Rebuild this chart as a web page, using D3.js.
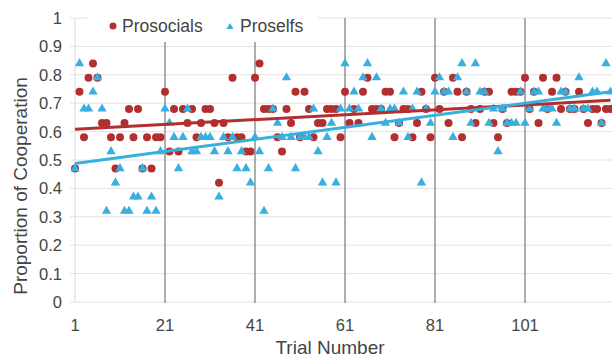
<!DOCTYPE html>
<html>
<head>
<meta charset="utf-8">
<script src="https://cdn.jsdelivr.net/npm/d3@7"></script>
<style>
  body { margin: 0; background: #fff; }
  svg { display: block; font-family: "Liberation Sans", Arial, sans-serif; }
</style>
</head>
<body>
<svg id="chart" width="612" height="358"></svg>
<script>
// Proportion of cooperation per trial (trials 1..120)
const prosocials = [
  0.47, 0.74, 0.58, 0.79, 0.84, 0.79, 0.63, 0.63, 0.58, 0.47,
  0.58, 0.63, 0.68, 0.58, 0.68, 0.47, 0.58, 0.47, 0.58, 0.58,
  0.74, 0.53, 0.68, 0.53, 0.68, 0.63, 0.68, 0.58, 0.63, 0.68,
  0.68, 0.63, 0.42, 0.63, 0.58, 0.79, 0.58, 0.58, 0.53, 0.53,
  0.79, 0.84, 0.68, 0.68, 0.68, 0.58, 0.53, 0.68, 0.63, 0.74,
  0.58, 0.74, 0.68, 0.58, 0.63, 0.63, 0.68, 0.68, 0.68, 0.58,
  0.74, 0.63, 0.68, 0.63, 0.74, 0.79, 0.68, 0.68, 0.68, 0.74,
  0.74, 0.58, 0.63, 0.68, 0.68, 0.58, 0.63, 0.74, 0.68, 0.58,
  0.79, 0.68, 0.74, 0.63, 0.79, 0.74, 0.58, 0.74, 0.68, 0.63,
  0.68, 0.74, 0.74, 0.63, 0.58, 0.68, 0.63, 0.74, 0.74, 0.74,
  0.79, 0.68, 0.74, 0.63, 0.79, 0.68, 0.74, 0.79, 0.68, 0.74,
  0.68, 0.68, 0.74, 0.68, 0.63, 0.68, 0.68, 0.63, 0.68, 0.68
];
const proselfs = [
  0.47, 0.84, 0.68, 0.68, 0.74, 0.79, 0.68, 0.32, 0.53, 0.42,
  0.47, 0.32, 0.32, 0.37, 0.37, 0.47, 0.32, 0.37, 0.32, 0.53,
  0.68, 0.63, 0.58, 0.47, 0.58, 0.68, 0.53, 0.53, 0.58, 0.58,
  0.58, 0.53, 0.37, 0.58, 0.53, 0.58, 0.47, 0.53, 0.47, 0.42,
  0.58, 0.53, 0.32, 0.47, 0.68, 0.63, 0.58, 0.79, 0.58, 0.47,
  0.58, 0.58, 0.58, 0.68, 0.53, 0.42, 0.58, 0.63, 0.42, 0.68,
  0.84, 0.68, 0.74, 0.68, 0.79, 0.84, 0.58, 0.79, 0.68, 0.63,
  0.68, 0.68, 0.63, 0.74, 0.58, 0.68, 0.74, 0.42, 0.68, 0.63,
  0.74, 0.79, 0.74, 0.74, 0.58, 0.79, 0.84, 0.74, 0.63, 0.84,
  0.74, 0.74, 0.63, 0.68, 0.53, 0.68, 0.63, 0.63, 0.63, 0.74,
  0.63, 0.68, 0.74, 0.74, 0.68, 0.68, 0.68, 0.63, 0.74, 0.74,
  0.68, 0.68, 0.79, 0.68, 0.68, 0.74, 0.74, 0.63, 0.84, 0.74
];
// linear trend lines, value at trial 1 and trial 120
const trendTrials = [1, 120];
const trendProsocials = [0.608, 0.71];
const trendProselfs = [0.488, 0.74];

const yTicks = [0, 0.1, 0.2, 0.3, 0.4, 0.5, 0.6, 0.7, 0.8, 0.9, 1];
const xTicks = [1, 21, 41, 61, 81, 101];
const dividerTrials = [21, 41, 61, 81, 101];

const red = "#b1302f";
const blue = "#37b0df";

const svg = d3.select("#chart");

const x = d3.scaleLinear().domain([1, 120]).range([75, 610.5]);
const y = d3.scaleLinear().domain([0, 1]).range([302, 18]);

// horizontal grid
svg.append("g")
  .selectAll("line")
  .data(yTicks)
  .enter()
  .append("line")
  .attr("x1", 70)
  .attr("x2", 612)
  .attr("y1", d => y(d))
  .attr("y2", d => y(d))
  .attr("stroke", "#e2e2e2")
  .attr("stroke-width", 1);

// y axis line
svg.append("line")
  .attr("x1", x(1)).attr("x2", x(1))
  .attr("y1", y(1)).attr("y2", y(0))
  .attr("stroke", "#dadada");

// vertical dividers
svg.append("g")
  .selectAll("line")
  .data(dividerTrials)
  .enter()
  .append("line")
  .attr("x1", d => x(d))
  .attr("x2", d => x(d))
  .attr("y1", y(1))
  .attr("y2", y(0) + 1)
  .attr("stroke", "#8c8c8c")
  .attr("stroke-width", 1.4);

// tick labels
svg.append("g")
  .selectAll("text")
  .data(yTicks)
  .enter()
  .append("text")
  .attr("x", 62)
  .attr("y", d => y(d))
  .attr("dy", "0.36em")
  .attr("text-anchor", "end")
  .attr("font-size", 16.5)
  .attr("fill", "#444")
  .text(d => d3.format("~g")(d));

svg.append("g")
  .selectAll("text")
  .data(xTicks)
  .enter()
  .append("text")
  .attr("x", d => x(d))
  .attr("y", 325)
  .attr("dy", "0.36em")
  .attr("text-anchor", "middle")
  .attr("font-size", 16.5)
  .attr("fill", "#444")
  .text(d => d);

// axis titles
svg.append("text")
  .attr("x", 330)
  .attr("y", 347)
  .attr("dy", "0.36em")
  .attr("text-anchor", "middle")
  .attr("font-size", 19)
  .attr("fill", "#444")
  .text("Trial Number");

svg.append("text")
  .attr("transform", "translate(20,186) rotate(-90)")
  .attr("dy", "0.36em")
  .attr("text-anchor", "middle")
  .attr("font-size", 19)
  .attr("fill", "#444")
  .text("Proportion of Cooperation");

// points
svg.append("g")
  .selectAll("circle")
  .data(prosocials)
  .enter()
  .append("circle")
  .attr("cx", (d, i) => x(i + 1))
  .attr("cy", d => y(d))
  .attr("r", 4)
  .attr("fill", red);

const tri = d3.symbol().type(d3.symbolTriangle).size(38);
svg.append("g")
  .selectAll("path")
  .data(proselfs)
  .enter()
  .append("path")
  .attr("transform", (d, i) => "translate(" + x(i + 1) + "," + y(d) + ")")
  .attr("d", tri)
  .attr("fill", blue);

// trend lines
const trendLine = d3.line().x(d => x(d[0])).y(d => y(d[1]));
svg.append("path")
  .datum(d3.zip(trendTrials, trendProsocials))
  .attr("d", trendLine)
  .attr("fill", "none")
  .attr("stroke", red)
  .attr("stroke-width", 3);
svg.append("path")
  .datum(d3.zip(trendTrials, trendProselfs))
  .attr("d", trendLine)
  .attr("fill", "none")
  .attr("stroke", blue)
  .attr("stroke-width", 3);

// legend
const legend = svg.append("g");
legend.append("rect")
  .attr("x", 88).attr("y", 4)
  .attr("width", 230).attr("height", 38)
  .attr("fill", "#fff");
legend.append("circle")
  .attr("cx", 113).attr("cy", 26).attr("r", 3.5)
  .attr("fill", red);
legend.append("text")
  .attr("x", 122).attr("y", 26).attr("dy", "0.36em")
  .attr("font-size", 17.5).attr("fill", "#444")
  .text("Prosocials");
legend.append("path")
  .attr("transform", "translate(230,27)")
  .attr("d", d3.symbol().type(d3.symbolTriangle).size(22))
  .attr("fill", blue);
legend.append("text")
  .attr("x", 240).attr("y", 26).attr("dy", "0.36em")
  .attr("font-size", 17.5).attr("fill", "#444")
  .text("Proselfs");
</script>
</body>
</html>
